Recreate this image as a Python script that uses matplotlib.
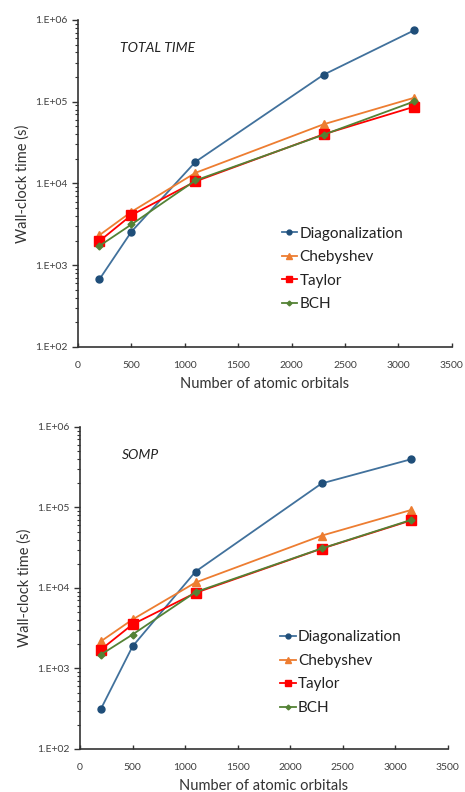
import numpy as np
import matplotlib
matplotlib.use("Agg")
import matplotlib.pyplot as plt
from matplotlib.ticker import FixedLocator, FuncFormatter, LogLocator, NullFormatter

plt.rcParams['font.family'] = ['Lato', 'DejaVu Sans']

# 原子軌道の数
orbitals = [200, 500, 1100, 2300, 3150]

# TOTAL TIME (s)
total_diag = [670, 2570, 18400, 214000, 750000]
total_cheb = [2330, 4500, 13500, 53000, 112000]
total_taylor = [1970, 4100, 10600, 40000, 87000]
total_bch = [1720, 3150, 10900, 39500, 101000]

# SOMP (s)
somp_diag = [316, 1880, 16000, 199000, 397000]
somp_cheb = [2180, 4060, 11700, 44700, 93000]
somp_taylor = [1720, 3530, 8700, 30800, 69000]
somp_bch = [1490, 2640, 8900, 31000, 70000]

names = ['Diagonalization', 'Chebyshev', 'Taylor', 'BCH']
line_colors = ['#41719C', '#ED7D31', '#FF0000', '#548235']
face_colors = ['#1F4E79', '#ED7D31', '#FF0000', '#548235']
markers = ['o', '^', 's', 'D']
msizes = [5, 6, 7, 3.5]

ytick_vals = [1e2, 1e3, 1e4, 1e5, 1e6]
ytick_labels = ['1.E+02', '1.E+03', '1.E+04', '1.E+05', '1.E+06']
xtick_vals = [0, 500, 1000, 1500, 2000, 2500, 3000, 3500]

fig = plt.figure(figsize=(4.65, 7.92), dpi=100)


def draw(ax, series, title):
    for vals, name, lc, fc, mk, ms in zip(series, names, line_colors, face_colors, markers, msizes):
        ax.plot(orbitals, vals, color=lc, lw=1.3, marker=mk, ms=ms,
                markerfacecolor=fc, markeredgecolor=fc, label=name)
    ax.set_yscale('log')
    ax.set_ylim(1e2, 1e6)
    ax.set_xlim(0, 3500)
    ax.yaxis.set_major_locator(FixedLocator(ytick_vals))
    ax.yaxis.set_major_formatter(FuncFormatter(lambda v, p: ytick_labels[ytick_vals.index(v)] if v in ytick_vals else ''))
    ax.yaxis.set_minor_locator(LogLocator(base=10, subs=np.arange(2, 10)))
    ax.yaxis.set_minor_formatter(NullFormatter())
    ax.xaxis.set_major_locator(FixedLocator(xtick_vals))
    for s in ['top', 'right']:
        ax.spines[s].set_visible(False)
    for s in ['left', 'bottom']:
        ax.spines[s].set_linewidth(1.2)
        ax.spines[s].set_color('#333333')
    ax.tick_params(axis='y', which='major', direction='out', length=4, width=1, labelsize=7.5,
                   colors='#333333', labelcolor='#404040')
    ax.tick_params(axis='y', which='minor', direction='out', length=2.5, width=0.8, colors='#333333')
    ax.tick_params(axis='x', direction='in', length=3, width=1, labelsize=7.5, pad=10,
                   colors='#333333', labelcolor='#404040')
    ax.set_ylabel('Wall-clock time (s)', fontsize=10.5, color='#333333', labelpad=4)
    ax.set_xlabel('Number of atomic orbitals', fontsize=10.5, color='#333333', labelpad=5)
    ax.text(0.113, 0.914, title, transform=ax.transAxes, fontsize=10, style='italic',
            color='#222222', va='center')
    ax.legend(loc='upper left', bbox_to_anchor=(0.545, 0.368), frameon=False, fontsize=11,
              handlelength=1.0, handletextpad=0.15, labelspacing=0.62, borderaxespad=0, borderpad=0,
              markerscale=0.7, labelcolor='#222222')


ax1 = fig.add_axes([0.1677, 0.5619, 0.804, 0.4129])
draw(ax1, [total_diag, total_cheb, total_taylor, total_bch], 'TOTAL TIME')

ax2 = fig.add_axes([0.172, 0.0543, 0.791, 0.4066])
draw(ax2, [somp_diag, somp_cheb, somp_taylor, somp_bch], 'SOMP')

fig.savefig('out.png', dpi=100)
